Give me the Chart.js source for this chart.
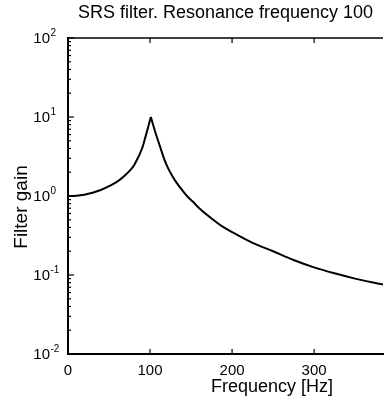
<!DOCTYPE html>
<html>
<head>
<meta charset="utf-8">
<script src="https://cdn.jsdelivr.net/npm/chart.js@4/dist/chart.umd.min.js"></script>
<style>
  html, body { margin: 0; padding: 0; background: #fff; }
  #wrap { width: 386px; height: 401px; }
</style>
</head>
<body>
<div id="wrap"><canvas id="srsChart"></canvas></div>
<script>
const freqs = [0, 10, 20, 30, 40, 50, 60, 70, 75, 80, 85, 88, 91, 94, 97.5, 101, 104, 108, 112, 116, 120, 124, 130, 137, 145, 152, 160, 175, 190, 200, 225, 250, 275, 300, 325, 350, 375, 384];
const gains = [1.00, 1.01, 1.04, 1.10, 1.19, 1.33, 1.52, 1.85, 2.08, 2.4, 3.0, 3.5, 4.2, 5.4, 7.3, 10.0, 7.8, 5.7, 4.3, 3.2, 2.5, 2.05, 1.6, 1.27, 1.0, 0.85, 0.70, 0.52, 0.40, 0.35, 0.255, 0.20, 0.155, 0.125, 0.105, 0.090, 0.079, 0.076];

const xTicks = [0, 100, 200, 300];
const yDecades = [0.01, 0.1, 1, 10, 100];
const yExponents = ["-2", "-1", "0", "1", "2"];

const FONT = "'Liberation Sans', Arial, Helvetica, sans-serif";

// split at the resonance so the peak stays sharp while both flanks are smooth
const peakIdx = gains.indexOf(Math.max(...gains));
const points = freqs.map((f, i) => ({ x: f, y: gains[i] }));
const rising = points.slice(0, peakIdx + 1);
const falling = points.slice(peakIdx);

// MATLAB style: inner ticks, top box line, 10^n labels, axis titles
const axesDecor = {
  id: "axesDecor",
  afterDraw(chart) {
    const ctx = chart.ctx;
    const a = chart.chartArea;
    const xs = chart.scales.x;
    const ys = chart.scales.y;
    ctx.save();
    ctx.strokeStyle = "#000";
    ctx.lineWidth = 1.5;

    // top line
    ctx.beginPath();
    ctx.moveTo(a.left, a.top);
    ctx.lineTo(a.right, a.top);
    ctx.stroke();

    // x ticks, bottom and top
    ctx.lineWidth = 1.2;
    xTicks.forEach((v) => {
      if (v === 0) return;
      const px = xs.getPixelForValue(v);
      ctx.beginPath();
      ctx.moveTo(px, a.bottom);
      ctx.lineTo(px, a.bottom - 5);
      ctx.moveTo(px, a.top);
      ctx.lineTo(px, a.top + 5);
      ctx.stroke();
    });

    // y ticks: majors and minors
    yDecades.forEach((d, i) => {
      const py = ys.getPixelForValue(d);
      ctx.beginPath();
      ctx.moveTo(a.left, py);
      ctx.lineTo(a.left + 6, py);
      ctx.stroke();
      if (i < yDecades.length - 1) {
        for (let k = 2; k <= 9; k++) {
          const pm = ys.getPixelForValue(d * k);
          ctx.beginPath();
          ctx.moveTo(a.left, pm);
          ctx.lineTo(a.left + 3, pm);
          ctx.stroke();
        }
      }
    });

    // y labels 10^n
    ctx.fillStyle = "#000";
    ctx.textBaseline = "middle";
    yDecades.forEach((d, i) => {
      const py = ys.getPixelForValue(d);
      ctx.font = "15px " + FONT;
      ctx.textAlign = "right";
      ctx.fillText("10", 50, py + 1);
      ctx.font = "10px " + FONT;
      ctx.textAlign = "left";
      ctx.fillText(yExponents[i], 50.5, py - 5);
    });

    // x axis title
    ctx.font = "18px " + FONT;
    ctx.textAlign = "center";
    ctx.fillText("Frequency [Hz]", 272, 387);

    // y axis title
    ctx.font = "19px " + FONT;
    ctx.translate(22, 207);
    ctx.rotate(-Math.PI / 2);
    ctx.fillText("Filter gain", 0, 0);
    ctx.restore();
  },
};

const lineStyle = {
  borderColor: "#000",
  borderWidth: 2,
  pointRadius: 0,
  cubicInterpolationMode: "monotone",
  fill: false,
};

const ctx = document.getElementById("srsChart").getContext("2d");

const srsChart = new Chart(ctx, {
  type: "line",
  data: {
    datasets: [
      { data: rising, ...lineStyle },
      { data: falling, ...lineStyle },
    ],
  },
  options: {
    responsive: true,
    maintainAspectRatio: false,
    animation: false,
    layout: { padding: { left: 0, right: 3, top: 0, bottom: 0 } },
    plugins: {
      legend: { display: false },
      tooltip: { enabled: false },
      title: {
        display: true,
        fullSize: false,
        text: "SRS filter. Resonance frequency 100",
        color: "#000",
        font: { family: FONT, size: 18, weight: "normal", lineHeight: 1.2 },
        padding: { top: 2, bottom: 14.4 },
      },
    },
    scales: {
      x: {
        type: "linear",
        min: 0,
        max: 384,
        afterBuildTicks: (scale) => {
          scale.ticks = xTicks.map((v) => ({ value: v }));
        },
        afterFit: (scale) => {
          scale.height = 47;
        },
        grid: { display: false, drawTicks: false },
        border: { display: true, color: "#000", width: 2 },
        ticks: {
          color: "#000",
          padding: 8,
          maxRotation: 0,
          autoSkip: false,
          font: { family: FONT, size: 15 },
        },
      },
      y: {
        type: "logarithmic",
        min: 0.01,
        max: 100,
        afterFit: (scale) => {
          scale.width = 68;
        },
        grid: { display: false, drawTicks: false },
        border: { display: true, color: "#000", width: 2 },
        ticks: { display: false },
      },
    },
  },
  plugins: [axesDecor],
});
</script>
</body>
</html>
